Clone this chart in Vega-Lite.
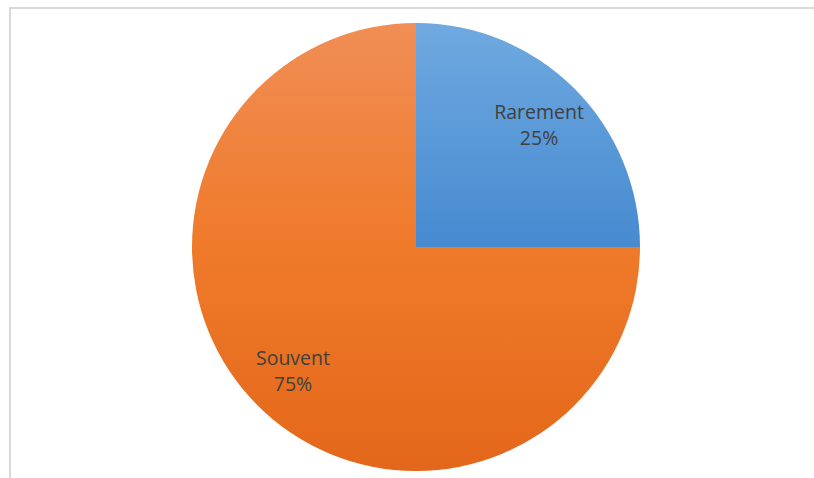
{
  "$schema": "https://vega.github.io/schema/vega-lite/v6.json",
  "width": 812,
  "height": 478,
  "padding": {"left": 10, "top": 8, "right": 0, "bottom": 0},
  "autosize": {"type": "none"},
  "background": "white",
  "view": {"stroke": "#d9d9d9", "strokeWidth": 2},
  "data": {
    "values": [
      {"cat": "Rarement", "value": 25, "label": "Rarement\n25%"},
      {"cat": "Souvent", "value": 75, "label": "Souvent\n75%"}
    ]
  },
  "encoding": {
    "theta": {"field": "value", "type": "quantitative", "stack": true},
    "order": {"field": "value", "sort": "ascending"}
  },
  "layer": [
    {
      "mark": {"type": "arc", "outerRadius": 224},
      "encoding": {
        "color": {
          "condition": {
            "test": "datum.cat === 'Rarement'",
            "value": {"gradient": "linear", "x1": 0, "y1": 0, "x2": 0, "y2": 1,
              "stops": [{"offset": 0, "color": "#6fa9e0"}, {"offset": 1, "color": "#468ad0"}]}
          },
          "value": {"gradient": "linear", "x1": 0, "y1": 0, "x2": 0, "y2": 1,
            "stops": [{"offset": 0, "color": "#f08e55"}, {"offset": 0.5, "color": "#ef7a2a"}, {"offset": 1, "color": "#e3671a"}]}
        }
      }
    },
    {
      "mark": {"type": "text", "radius": 174, "dy": -11, "font": "Open Sans", "fontSize": 19.5, "color": "#404040", "lineBreak": "\n", "lineHeight": 26, "align": "center", "baseline": "middle"},
      "encoding": {
        "text": {"field": "label", "type": "nominal"}
      }
    }
  ]
}
